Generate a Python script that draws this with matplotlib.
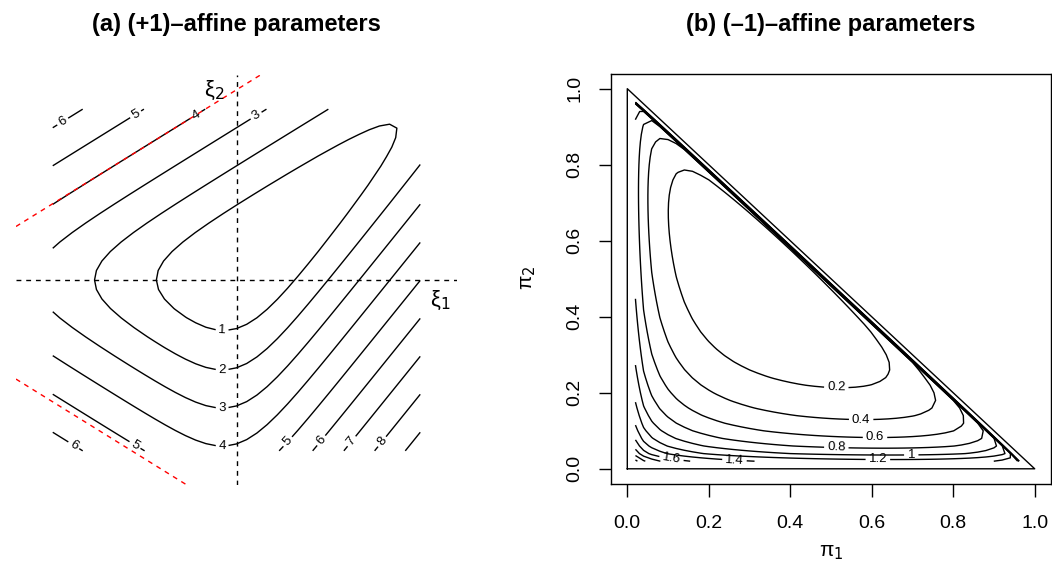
import numpy as np
import matplotlib
matplotlib.use("Agg")
import matplotlib.pyplot as plt

plt.rcParams['font.family'] = ['Liberation Sans', 'DejaVu Sans']
plt.rcParams['mathtext.fontset'] = 'dejavusans'

# ---- data ----
eta = [1/3, 1/2, 1/6]                 # reference distribution (eta1, eta2, eta3)
xi_lim = 9.0                          # grid half-width in (+1)-affine coords
xi_step = 0.5
levels_a = [1, 2, 3, 4, 5, 6, 7, 8, 9]
labels_a = [(-0.7, -2.55), (-0.7, -4.62), (-0.7, -6.64), (-0.7, -8.64),
            (-8.56, 8.43), (-4.97, 8.78), (-2.03, 8.75), (0.91, 8.75),
            (-7.96, -8.69), (-4.97, -8.69),
            (2.42, -8.43), (4.12, -8.43), (5.56, -8.43), (7.03, -8.43)]
red_lines = [(2/3, 10.02), (-2/3, -12.42)]   # slope, intercept of asymptotes

pi_step = 0.02
edge_eps = 1e-16                      # floating residual of pi3 on the edge
levels_b = [0.2, 0.4, 0.6, 0.8, 1.0, 1.2, 1.4, 1.6, 1.8, 2.0, 2.2]
labels_b = [(0.513, 0.214), (0.574, 0.129), (0.608, 0.081), (0.513, 0.054),
            (0.697, 0.037), (0.615, 0.022), (0.263, 0.022), (0.108, 0.024)]
ticks_b = [0.0, 0.2, 0.4, 0.6, 0.8, 1.0]

W, H = 1052, 581
fig = plt.figure(figsize=(W/100, H/100), dpi=100)
lw = 1.0
fmt = lambda v: f"{v:g}"

# ---- panel (a) ----
ax = fig.add_axes([16/W, (H-485)/H, 441/W, 410/H])
g = np.arange(-xi_lim, xi_lim + 1e-9, xi_step)
X1, X2 = np.meshgrid(g, g)
psi = np.log(1 + np.exp(X1) + np.exp(X2))
neg_ent = sum(e*np.log(e) for e in eta)
Za = psi - eta[0]*X1 - eta[1]*X2 + neg_ent
cs = ax.contour(X1, X2, Za, levels=levels_a, colors='black', linewidths=lw)
ax.clabel(cs, levels_a, manual=labels_a, inline=True, inline_spacing=4,
          fontsize=9.5, fmt=fmt)
ax.set_xlim(-10.8, 10.8)
ax.set_ylim(-10.8, 10.8)
ax.axhline(0, color='black', lw=lw, dashes=(3.5, 3.5))
ax.axvline(0, color='black', lw=lw, dashes=(3.5, 3.5))
for s, b in red_lines:
    ax.axline((0, b), slope=s, color='red', lw=lw, dashes=(3.5, 3.5))
ax.text(10, -1.1, 'ξ$_1$', fontsize=16, ha='center', va='center')
ax.text(-1.1, 10, 'ξ$_2$', fontsize=16, ha='center', va='center')
ax.axis('off')

# ---- panel (b) ----
bx = fig.add_axes([611/W, (H-484)/H, 440/W, 410.5/H])
p = np.arange(0, 51) * pi_step
P1, P2 = np.meshgrid(p, p)
P3 = 1 - P1 - P2
P3 = np.where(np.abs(P3) < 1e-9, edge_eps, P3)
with np.errstate(divide='ignore', invalid='ignore'):
    Zb = (eta[0]*np.log(eta[0]/P1) + eta[1]*np.log(eta[1]/P2)
          + eta[2]*np.log(eta[2]/P3))
Zb[~np.isfinite(Zb)] = np.nan
bx.plot([0, 1, 0, 0], [0, 0, 1, 0], color='black', lw=lw)
cs2 = bx.contour(P1, P2, Zb, levels=levels_b, colors='black', linewidths=lw)
bx.clabel(cs2, levels_b, manual=labels_b, inline=True, inline_spacing=4,
          fontsize=9.5, fmt=fmt)
bx.set_xlim(-0.04, 1.04)
bx.set_ylim(-0.04, 1.04)
bx.set_xticks(ticks_b)
bx.set_yticks(ticks_b)
bx.set_xticklabels([f"{t:.1f}" for t in ticks_b])
bx.set_yticklabels([f"{t:.1f}" for t in ticks_b], rotation=90, va='center')
bx.tick_params(direction='out', length=9, width=lw, labelsize=14)
bx.tick_params(axis='x', pad=13)
bx.tick_params(axis='y', pad=11)
for sp in bx.spines.values():
    sp.set_linewidth(lw)

fig.text(236/W, 1 - 31/H, '(a) (+1)\u2013affine parameters', fontsize=17,
         fontweight='bold', ha='center', va='baseline')
fig.text(831/W, 1 - 31/H, '(b) (\u20131)\u2013affine parameters', fontsize=17,
         fontweight='bold', ha='center', va='baseline')
fig.text(831/W, 1 - 552/H, 'π$_1$', fontsize=15, ha='center', va='center')
fig.text(528/W, 1 - 278/H, 'π$_2$', fontsize=15, ha='center', va='center',
         rotation=90)

fig.savefig('out.png', dpi=100)
